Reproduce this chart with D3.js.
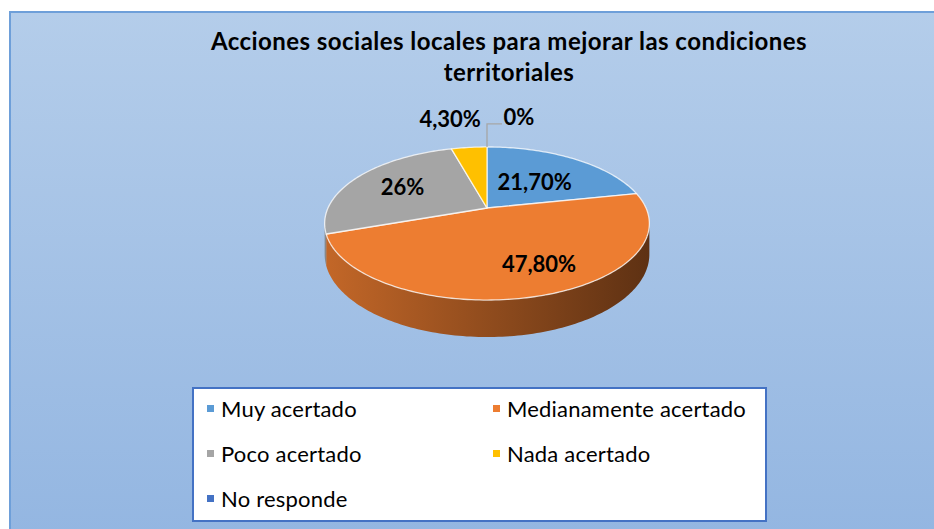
<!DOCTYPE html>
<html>
<head>
<meta charset="utf-8">
<script src="https://cdn.jsdelivr.net/npm/d3@7/dist/d3.min.js"></script>
<style>
  html, body { margin: 0; padding: 0; background: #ffffff; overflow: hidden; }
  svg { display: block; }
</style>
</head>
<body>
<div id="chart"></div>
<script>
// chart data
var categories = ["Muy acertado", "Medianamente acertado", "Poco acertado", "Nada acertado", "No responde"];
var values = [21.7, 47.8, 26, 4.3, 0];
var labels = ["21,70%", "47,80%", "26%", "4,30%", "0%"];
var colors = ["#5b9bd5", "#ed7d31", "#a5a5a5", "#ffc000", "#4472c4"];
var title = ["Acciones sociales locales para mejorar las condiciones", "territoriales"];

var width = 934, height = 529;

var svg = d3.select("#chart").append("svg")
    .attr("width", width)
    .attr("height", height);

var defs = svg.append("defs");

// background of the chart area
var bg = defs.append("linearGradient")
    .attr("id", "bg")
    .attr("x1", 0).attr("y1", 0).attr("x2", 0).attr("y2", 1);
bg.append("stop").attr("offset", "0%").attr("stop-color", "#b4cdea");
bg.append("stop").attr("offset", "100%").attr("stop-color", "#92b5e1");

svg.append("rect")
    .attr("x", 10).attr("y", 12)
    .attr("width", width + 20).attr("height", height + 20)
    .attr("fill", "url(#bg)")
    .attr("stroke", "#6e9fd9")
    .attr("stroke-width", 2);

// title
svg.append("text")
    .attr("x", 509)
    .attr("y", 50)
    .attr("text-anchor", "middle")
    .style("font-family", "Lato, 'Open Sans', sans-serif")
    .style("font-weight", "bold")
    .style("font-size", "24px")
    .style("letter-spacing", "0.45px")
    .style("fill", "#000")
    .selectAll("tspan")
    .data(title)
    .enter().append("tspan")
    .attr("x", 509)
    .attr("dy", function (d, i) { return i == 0 ? 0 : 31; })
    .text(function (d) { return d; });

// 3D pie geometry (perspective tilted disc)
var cx = 487, cy = 208;
var K = 159, A = 73.4, H = 29.5, persp = -0.2026;

function proj(theta, r, depth) {
  var u = r * Math.sin(theta),
      v = -r * Math.cos(theta);
  var den = 1 + persp * v;
  return [cx + K * u / den, cy + A * v / den + depth * H / den];
}

var pie = d3.pie().sort(null).value(function (d) { return d; });
var arcs = pie(values);

var line = d3.line();

function arcPoints(a0, a1, depth) {
  var pts = [];
  var n = Math.max(2, Math.ceil((a1 - a0) / 0.02));
  for (var i = 0; i <= n; i++) {
    pts.push(proj(a0 + (a1 - a0) * i / n, 1, depth));
  }
  return pts;
}

// visible front of the side wall
var sideStart = Math.acos(persp);
var sideEnd = 2 * Math.PI - sideStart;

var sides = svg.append("g").attr("class", "sides");
arcs.forEach(function (d, i) {
  var a0 = Math.max(d.startAngle, sideStart),
      a1 = Math.min(d.endAngle, sideEnd);
  if (a1 <= a0) return;
  var g = defs.append("linearGradient")
      .attr("id", "side" + i)
      .attr("gradientUnits", "userSpaceOnUse")
      .attr("x1", cx - K * 1.02).attr("y1", 0)
      .attr("x2", cx + K * 1.02).attr("y2", 0);
  g.append("stop").attr("offset", "0%").attr("stop-color", d3.color(colors[i]).darker(0.55));
  g.append("stop").attr("offset", "100%").attr("stop-color", d3.color(colors[i]).darker(2.6));
  var pts = arcPoints(a0, a1, 0).concat(arcPoints(a0, a1, 1).reverse());
  sides.append("path")
      .attr("d", line(pts) + "Z")
      .attr("fill", "url(#side" + i + ")");
});

// top faces
var tops = svg.append("g").attr("class", "tops");
arcs.forEach(function (d, i) {
  if (d.endAngle - d.startAngle <= 0) return;
  var pts = [[cx, cy]].concat(arcPoints(d.startAngle, d.endAngle, 0));
  tops.append("path")
      .attr("d", line(pts) + "Z")
      .attr("fill", colors[i])
      .attr("stroke", "#ffffff")
      .attr("stroke-opacity", 0.75)
      .attr("stroke-width", 1.3)
      .attr("stroke-linejoin", "round");
});

// data labels (best fit nudges, like the spreadsheet does)
var labelFont = "Lato, 'Open Sans', sans-serif";
var nudge = [[-9, 6], [22, 6], [-2, -1]];
arcs.forEach(function (d, i) {
  var mid = (d.startAngle + d.endAngle) / 2;
  var p, outside = (d.endAngle - d.startAngle) < 0.5;
  if (!outside) {
    p = proj(mid, 0.62, 0);
    p = [p[0] + nudge[i][0], p[1] + nudge[i][1]];
  } else {
    var rim = proj(mid, 1, 0);
    if (d.value > 0) {
      p = [rim[0] - 19, rim[1] - 28];
    } else {
      // leader line for the empty slice
      svg.append("path")
          .attr("d", line([rim, [rim[0], rim[1] - 23], [rim[0] + 15, rim[1] - 23]]))
          .attr("fill", "none")
          .attr("stroke", "#a6a6a6")
          .attr("stroke-width", 1.3);
      p = [rim[0] + 32, rim[1] - 30];
    }
  }
  svg.append("text")
      .attr("x", p[0])
      .attr("y", p[1])
      .attr("dy", "0.35em")
      .attr("text-anchor", "middle")
      .style("font-family", labelFont)
      .style("font-weight", "bold")
      .style("font-size", "22px")
      .style("fill", "#000")
      .text(labels[i]);
});

// legend
var legend = svg.append("g").attr("class", "legend");
legend.append("rect")
    .attr("x", 193).attr("y", 388)
    .attr("width", 573).attr("height", 133)
    .attr("fill", "#ffffff")
    .attr("stroke", "#4472c4")
    .attr("stroke-width", 2);

var colX = d3.scalePoint().domain([0, 1]).range([207, 493]);
var rowY = d3.scalePoint().domain([0, 1, 2]).range([409, 499]);

var item = legend.selectAll(".item")
    .data(categories)
    .enter().append("g")
    .attr("class", "item")
    .attr("transform", function (d, i) {
      return "translate(" + colX(i % 2) + "," + rowY(Math.floor(i / 2)) + ")";
    });

item.append("rect")
    .attr("x", 0).attr("y", -4)
    .attr("width", 7).attr("height", 7)
    .attr("fill", function (d, i) { return colors[i]; });

item.append("text")
    .attr("x", 14)
    .attr("y", 0)
    .attr("dy", "0.35em")
    .style("font-family", labelFont)
    .style("font-size", "22px")
    .style("letter-spacing", "0.2px")
    .style("fill", "#000")
    .text(function (d) { return d; });
</script>
</body>
</html>
